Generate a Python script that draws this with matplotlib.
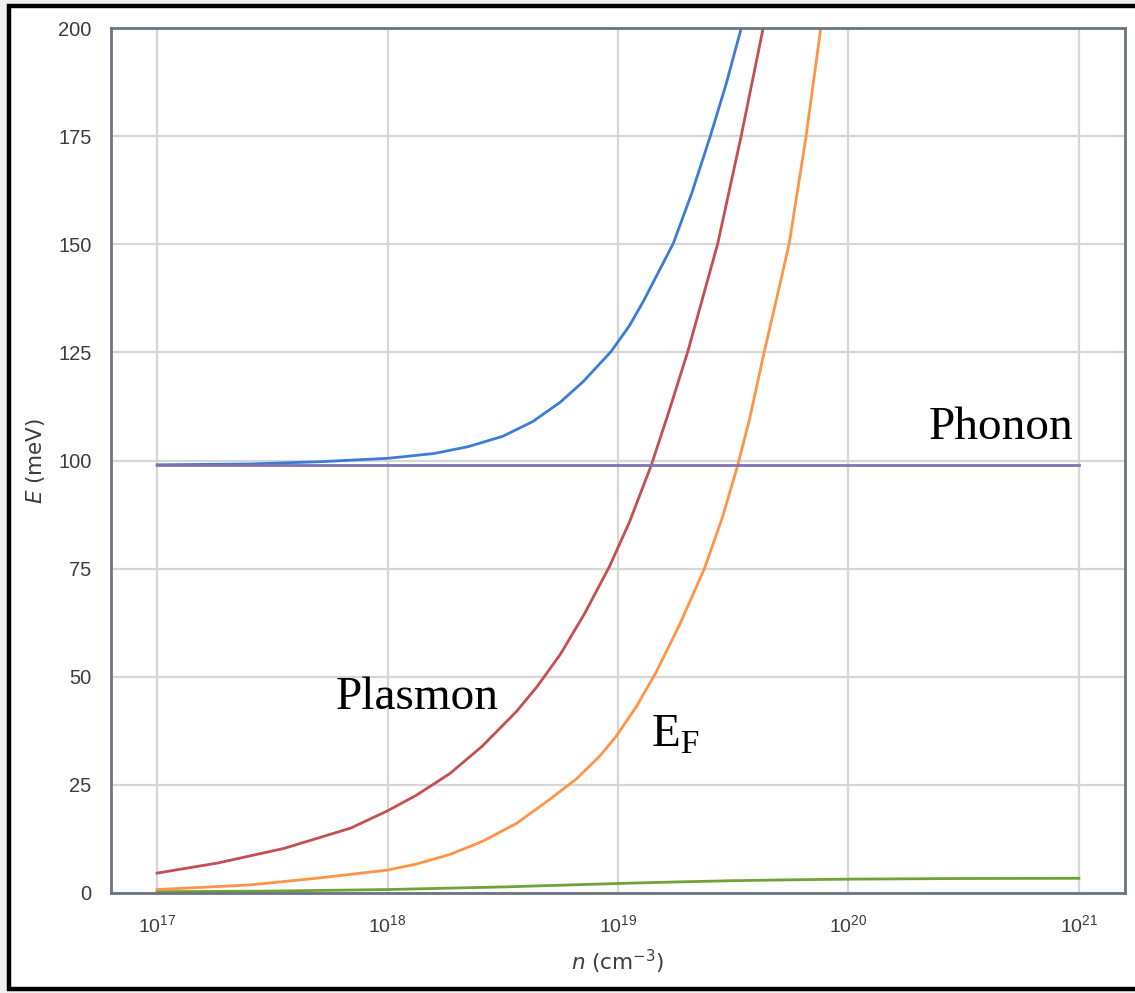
import numpy as np
import matplotlib
matplotlib.use("Agg")
import matplotlib.pyplot as plt
from matplotlib.patches import Rectangle

plt.rcParams['font.family'] = ['Liberation Sans', 'DejaVu Sans']

# carrier density as log10(n / cm^-3), energies in meV
logn_upper = [17.0, 17.4, 17.7, 18.0, 18.2, 18.35, 18.5, 18.63, 18.75, 18.85, 18.97,
              19.05, 19.11, 19.24, 19.32, 19.40, 19.47, 19.535, 19.6]
E_upper = [99.0, 99.2, 99.7, 100.5, 101.6, 103.2, 105.6, 109.0, 113.5, 118.3, 125.2,
           131.2, 136.8, 150.2, 161.8, 174.9, 187.2, 200.0, 212.0]

logn_plasmon = [17.0, 17.26, 17.55, 17.84, 18.0, 18.125, 18.27, 18.41, 18.56, 18.65,
                18.75, 18.855, 18.963, 19.05, 19.145, 19.216, 19.303, 19.433, 19.534,
                19.63, 19.7]
E_plasmon = [4.6, 6.9, 10.3, 15.0, 19.0, 22.6, 27.6, 33.9, 42.0, 47.8,
             55.2, 64.6, 75.5, 85.8, 99.0, 110.5, 125.2, 150.2, 174.9,
             200.0, 217.0]

logn_fermi = [17.0, 17.4, 17.69, 18.0, 18.125, 18.27, 18.41, 18.56, 18.70, 18.82, 18.92,
              18.99, 19.08, 19.165, 19.267, 19.375, 19.454, 19.52, 19.57, 19.635,
              19.693, 19.743, 19.816, 19.88, 19.95]
E_fermi = [0.8, 1.85, 3.4, 5.3, 6.7, 8.9, 11.9, 16.1, 21.5, 26.4, 31.6,
           36.1, 43.1, 51.0, 62.0, 75.0, 87.0, 99.0, 109.4, 125.2,
           138.5, 150.2, 174.9, 200.0, 222.0]

logn_lower = [17.0, 17.5, 18.0, 18.5, 18.75, 19.0, 19.25, 19.5, 19.75, 20.0, 20.5, 21.0]
E_lower = [0.3, 0.45, 0.8, 1.4, 1.8, 2.2, 2.55, 2.85, 3.05, 3.2, 3.35, 3.4]

logn_phonon = [17.0, 21.0]
E_phonon = [99.0, 99.0]

decades = [17, 18, 19, 20, 21]

W, H = 1135, 993
fig = plt.figure(figsize=(W / 100, H / 100), dpi=100, facecolor='#f0f0f0')

# white page with a black frame
frame = Rectangle((9 / W, 4 / H), 1.0, 1 - 10 / H, transform=fig.transFigure,
                  facecolor='white', edgecolor='black', linewidth=3.2, zorder=-10)
fig.patches.append(frame)

ax = fig.add_axes([111 / W, 1 - 893 / H, (1125 - 111) / W, (893 - 28) / H])
ax.set_facecolor('white')

lw = 2.0
ax.plot(10.0 ** np.array(logn_lower), E_lower, color='#6fa335', lw=lw)
ax.plot(10.0 ** np.array(logn_upper), E_upper, color='#3b7dd6', lw=lw)
ax.plot(10.0 ** np.array(logn_plasmon), E_plasmon, color='#c44e52', lw=lw)
ax.plot(10.0 ** np.array(logn_fermi), E_fermi, color='#ff9447', lw=lw)
ax.plot(10.0 ** np.array(logn_phonon), E_phonon, color='#8172b3', lw=lw)

ax.set_xscale('log')
ax.set_xlim(10 ** 16.8, 10 ** 21.2)
ax.set_ylim(0, 200)
ax.set_xticks([10.0 ** d for d in decades])
ax.xaxis.set_minor_locator(matplotlib.ticker.NullLocator())
ax.set_yticks(np.arange(0, 201, 25))

ax.grid(True, color='#d6d6d6', lw=1.6)
ax.set_axisbelow(True)
for s in ax.spines.values():
    s.set_color('#6b7480')
    s.set_linewidth(2.0)

ax.tick_params(axis='x', length=0, pad=15, labelsize=14, colors='#3c3c3c')
ax.tick_params(axis='y', length=0, pad=14, labelsize=14.5, colors='#3c3c3c')

ax.set_xlabel(r'$n$ (cm$^{-3}$)', fontsize=15.5, color='#3c3c3c',
              family=['DejaVu Sans'], labelpad=9)
ax.set_ylabel(r'$E$ (meV)', fontsize=15.5, color='#3c3c3c',
              family=['DejaVu Sans'], labelpad=8)

serif = ['Liberation Serif', 'DejaVu Serif']
ax.text(10 ** 20.35, 105, 'Phonon', fontsize=34, family=serif, ha='left', va='baseline')
ax.text(10 ** 17.776, 42.5, 'Plasmon', fontsize=34, family=serif, ha='left', va='baseline')
ax.text(10 ** 19.145, 33.8, r'E$_\mathregular{F}$', fontsize=34, family=serif,
        ha='left', va='baseline')

fig.savefig('out.png', dpi=100, facecolor=fig.get_facecolor())
